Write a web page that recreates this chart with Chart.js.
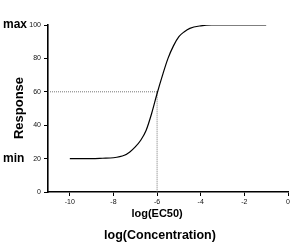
<!DOCTYPE html>
<html>
<head>
<meta charset="utf-8">
<script src="https://cdn.jsdelivr.net/npm/chart.js@4"></script>
<style>
  body { margin: 0; background: #fff; }
  canvas { display: block; }
</style>
</head>
<body>
<canvas id="doseChart" width="300" height="243"></canvas>
<script>
// dose-response curve
const logConc = [-10, -9, -8.5, -8, -7.5, -7.25, -7, -6.75, -6.5, -6.25, -6, -5.75, -5.5, -5.25, -5, -4.75, -4.5, -4, -3.5, -3, -2, -1];
const response = [20, 20, 20.2, 20.5, 22, 24, 27, 31, 37, 47, 59, 70, 80, 87.5, 93, 96, 98, 99.5, 100, 100, 100, 100];
const xTicks = [-10, -8, -6, -4, -2, 0];
const yTicks = [0, 20, 40, 60, 80, 100];
const ec50 = -6;
const halfResponse = 60;
const maxResponse = 100;
const minResponse = 20;

const labelsPlugin = {
    id: 'labels',
    afterDraw(chart) {
        const ctx = chart.ctx;
        const x = chart.scales.x, y = chart.scales.y;
        ctx.save();
        ctx.fillStyle = '#000';
        ctx.textBaseline = 'middle';
        ctx.textAlign = 'left';
        ctx.font = 'bold 12px "Liberation Sans", Arial, sans-serif';
        ctx.fillText('max', 3, y.getPixelForValue(maxResponse));
        ctx.fillText('min', 3, y.getPixelForValue(minResponse));

        ctx.textAlign = 'center';
        ctx.font = 'bold 11px "Liberation Sans", Arial, sans-serif';
        ctx.fillText('log(EC50)', x.getPixelForValue(ec50), 214);
        ctx.font = 'bold 12.5px "Liberation Sans", Arial, sans-serif';
        ctx.fillText('log(Concentration)', 160, 236);

        ctx.translate(19, 108);
        ctx.rotate(-Math.PI / 2);
        ctx.font = 'bold 13px "Liberation Sans", Arial, sans-serif';
        ctx.fillText('Response', 0, 0);
        ctx.restore();
    }
};

const tickFont = { family: '"Liberation Sans", Arial, sans-serif', size: 7 };

new Chart(document.getElementById('doseChart').getContext('2d'), {
    type: 'line',
    data: {
        datasets: [{
            data: logConc.map((v, i) => ({ x: v, y: response[i] })),
            borderColor: '#000',
            borderWidth: 1.2,
            pointRadius: 0,
            cubicInterpolationMode: 'monotone',
            fill: false
        }, {
            data: [{ x: -11, y: halfResponse }, { x: ec50, y: halfResponse }, { x: ec50, y: 0 }],
            borderColor: '#777',
            borderWidth: 1,
            borderDash: [1, 1],
            pointRadius: 0,
            tension: 0,
            fill: false
        }]
    },
    options: {
        responsive: false,
        animation: false,
        layout: { padding: { top: 25, right: 12, left: 0, bottom: 0 } },
        plugins: { legend: { display: false }, tooltip: { enabled: false } },
        scales: {
            x: {
                type: 'linear',
                min: -11,
                max: 0,
                afterBuildTicks: s => { s.ticks = xTicks.map(v => ({ value: v })); },
                afterFit: s => { s.height = 51; },
                ticks: { font: tickFont, color: '#111', padding: 2, maxRotation: 0 },
                grid: { drawOnChartArea: false, tickLength: 4, color: '#000' },
                border: { color: '#000', width: 1.6 }
            },
            y: {
                min: 0,
                max: 100,
                afterBuildTicks: s => { s.ticks = yTicks.map(v => ({ value: v })); },
                afterFit: s => { s.width = 48; },
                ticks: { font: tickFont, color: '#111', padding: 3 },
                grid: { drawOnChartArea: false, tickLength: 4, color: '#000' },
                border: { color: '#000', width: 1.6 }
            }
        }
    },
    plugins: [labelsPlugin]
});
</script>
</body>
</html>
